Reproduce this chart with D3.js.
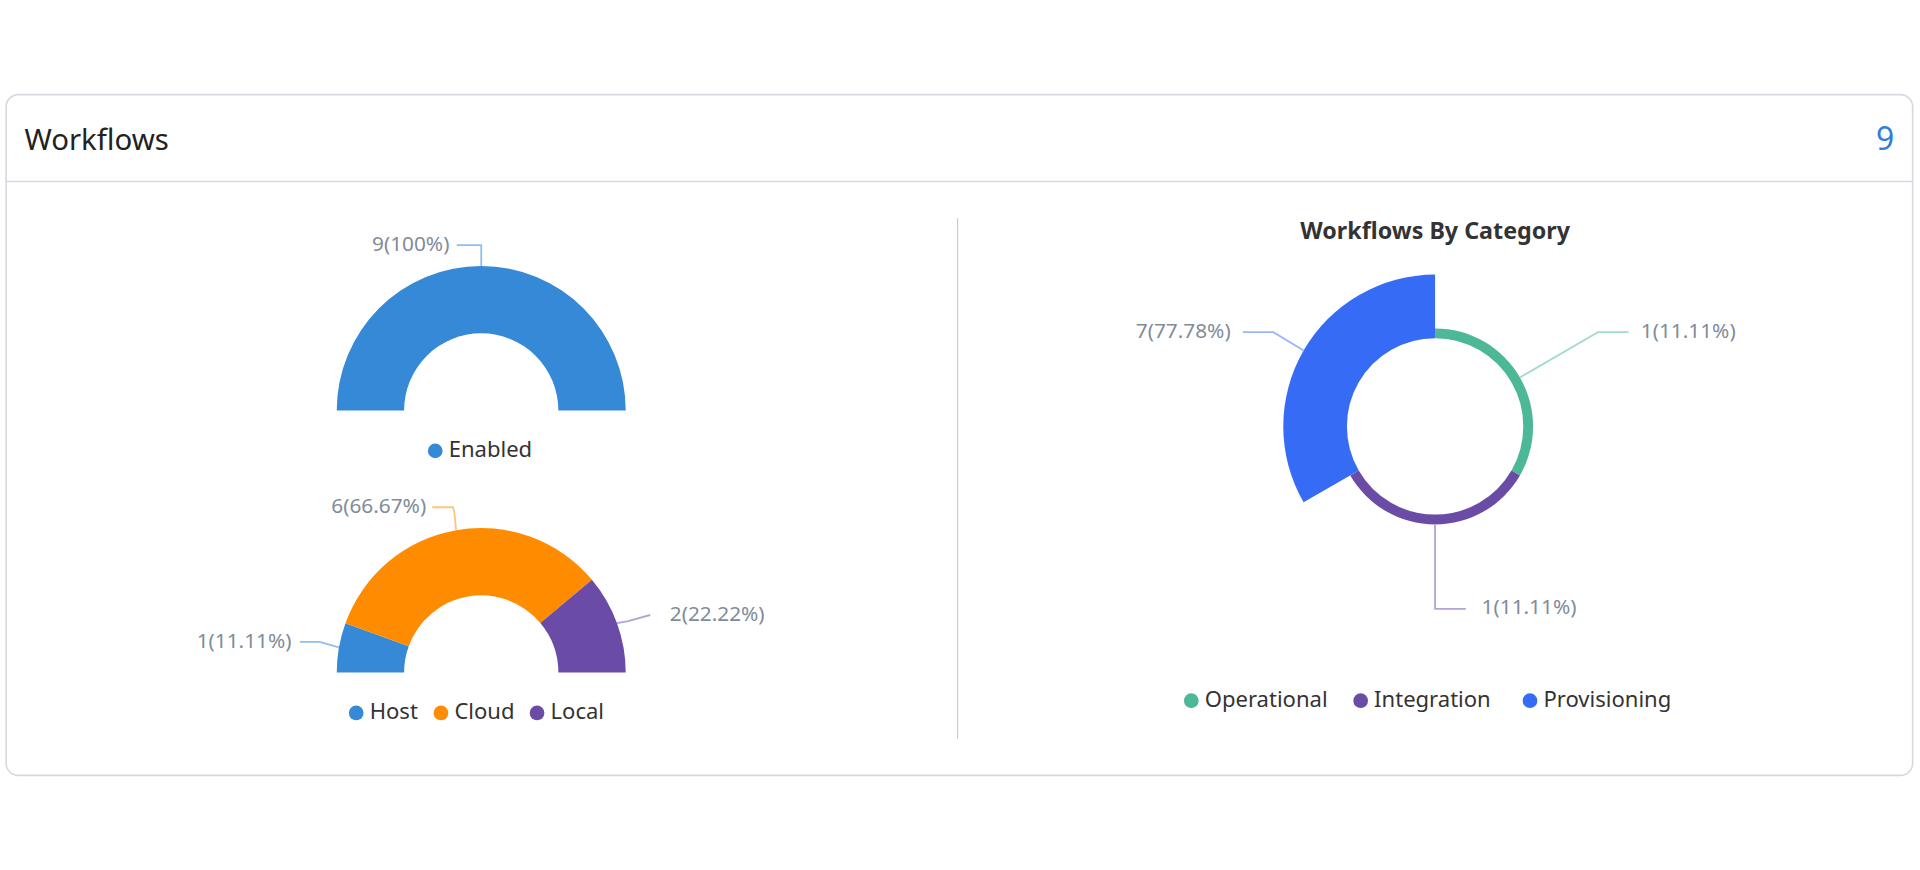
<!DOCTYPE html>
<html><head><meta charset="utf-8">
<script src="https://cdn.jsdelivr.net/npm/d3@7"></script>
<style>body{margin:0;background:#fff;}svg{display:block;font-family:"Noto Sans","Open Sans",sans-serif;}</style>
</head><body>
<svg id="c" width="1920" height="870" viewBox="0 0 1568 710"></svg>
<script>
const enabledCats=["Enabled"], enabledVals=[9];
const locCats=["Host","Cloud","Local"], locVals=[1,6,2];
const catCats=["Operational","Integration","Provisioning"], catVals=[1,1,7];
const locColors=["#3689d6","#ff8c00","#6a4ca6"];
const catColors=["#4db897","#6a4ca6","#366cf5"];
const lineColors={"#3689d6":"#8fc0ec","#ff8c00":"#ffc580","#6a4ca6":"#b3a3d6","#4db897":"#a3dcc9","#366cf5":"#9ab5fa"};
const svg=d3.select("#c");
svg.append("rect").attr("x",5).attr("y",77).attr("width",1557).attr("height",556).attr("rx",10)
 .attr("fill","#fff").attr("stroke","#d5d9e0").attr("stroke-width",1.3);
svg.append("line").attr("x1",5).attr("x2",1562).attr("y1",148).attr("y2",148).attr("stroke","#d5d9e0").attr("stroke-width",1.3);
svg.append("text").attr("x",20).attr("y",122).text("Workflows").attr("font-size",24).attr("fill","#222");
svg.append("text").attr("x",1547).attr("y",122).attr("text-anchor","end").text(d3.sum(catVals)).attr("font-size",26).attr("fill","#2f7fd6");
svg.append("line").attr("x1",782).attr("x2",782).attr("y1",178).attr("y2",603).attr("stroke","#ccc");
const fmt=(v,t)=>v+"("+(+(v/t*100).toFixed(2))+"%)";
function gauge(cx,cy,cats,vals,cols,labels){
  const g=svg.append("g").attr("transform",`translate(${cx},${cy})`);
  const pie=d3.pie().sort(null).startAngle(-Math.PI/2).endAngle(Math.PI/2);
  const arcs=pie(vals), tot=d3.sum(vals);
  const arc=d3.arc().innerRadius(63).outerRadius(118);
  g.selectAll("path").data(arcs).join("path").attr("d",arc).attr("fill",(d,i)=>cols[i]);
  arcs.forEach((a,i)=>{
    const L=labels[i]; const m=(a.startAngle+a.endAngle)/2;
    const p0=[Math.sin(m)*118,-Math.cos(m)*118];
    g.append("path").attr("d",d3.line()([p0,...L.pts])).attr("fill","none").attr("stroke",lineColors[cols[i]]).attr("stroke-width",1.5);
    g.append("text").attr("x",L.tx).attr("y",L.ty).attr("text-anchor",L.anchor).attr("dominant-baseline","middle")
     .attr("font-size",17).attr("fill","#7f8c9a").text(fmt(vals[i],tot));
  });
}
gauge(393,335,enabledCats,enabledVals,[locColors[0]],[{pts:[[0,-135],[-20,-135]],tx:-26,ty:-135,anchor:"end"}]);
gauge(393,549,locCats,locVals,locColors,[
  {pts:[[-132,-25],[-148,-25]],tx:-155,ty:-25,anchor:"end"},
  {pts:[[-22,-131],[-23,-135],[-40,-135]],tx:-45,ty:-135,anchor:"end"},
  {pts:[[120,-42],[138,-47]],tx:154,ty:-47,anchor:"start"}]);
function legend(cx,y,cats,cols,gap){
  const g=svg.append("g");
  let widths=cats.map(c=>c.length*9.3+22);
  let total=d3.sum(widths)+gap*(cats.length-1), x=cx-total/2;
  cats.forEach((c,i)=>{
    g.append("circle").attr("cx",x+6).attr("cy",y).attr("r",6).attr("fill",cols[i]);
    g.append("text").attr("x",x+17).attr("y",y).attr("dominant-baseline","middle").attr("font-size",18).attr("fill","#333").text(c);
    x+=widths[i]+gap;
  });
}
legend(393,368,enabledCats,[locColors[0]],10);
legend(393,582,locCats,locColors,10);
// rose donut
svg.append("text").attr("x",1172).attr("y",190).attr("text-anchor","middle").attr("dominant-baseline","middle")
 .attr("font-size",19).attr("font-weight","bold").attr("fill","#333").text("Workflows By Category");
const rg=svg.append("g").attr("transform","translate(1172,348)");
const r=d3.scaleLinear().domain([1,7]).range([80,124]);
const rarcs=d3.pie().sort(null).value(()=>1)(catVals);
const rtot=d3.sum(catVals);
rg.selectAll("path").data(rarcs).join("path").attr("d",d=>d3.arc().innerRadius(72).outerRadius(r(d.data))(d)).attr("fill",(d,i)=>catColors[i]);
const rl=[{pts:[[133,-77],[158,-77]],tx:168,ty:-77,anchor:"start"},
  {pts:[[0,149],[25,149]],tx:38,ty:149,anchor:"start"},
  {pts:[[-132,-77],[-157,-77]],tx:-167,ty:-77,anchor:"end"}];
rarcs.forEach((a,i)=>{
  const m=(a.startAngle+a.endAngle)/2, R=r(a.data);
  const p0=[Math.sin(m)*R,-Math.cos(m)*R];
  const L=rl[i];
  rg.append("path").attr("d",d3.line()([p0,...L.pts])).attr("fill","none").attr("stroke",lineColors[catColors[i]]).attr("stroke-width",1.5);
  rg.append("text").attr("x",L.tx).attr("y",L.ty).attr("text-anchor",L.anchor).attr("dominant-baseline","middle")
   .attr("font-size",17).attr("fill","#7f8c9a").text(fmt(a.data,rtot));
});
legend(1172,572,catCats,catColors,14);
</script></body></html>
